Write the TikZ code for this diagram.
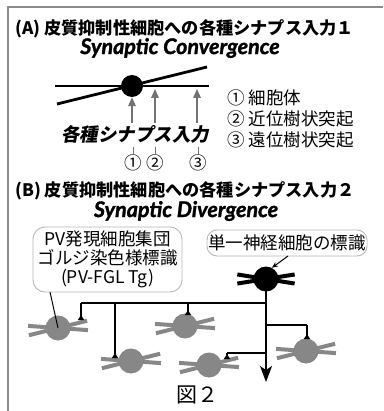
\documentclass[tikz,border=0pt]{standalone}
\usepackage{fontspec}
\setmainfont{Noto Sans CJK JP}
\newfontfamily\jp{Noto Sans CJK JP}
\newfontfamily\jpsl[FakeSlant=0.18]{Noto Sans CJK JP}
\newfontfamily\lat[FakeBold=1.4]{Lato}
\usetikzlibrary{arrows.meta}
\definecolor{framegray}{gray}{0.55}
\definecolor{cellgray}{gray}{0.53}
\definecolor{arrowgray}{gray}{0.45}
\definecolor{boxgray}{gray}{0.72}

% one neuron: soma node plus two dendrite strokes crossing at its centre
% #1 name, #2 position, #3 colour, #4 and #5 dendrite angles, #6 half length
\newcommand\nrn[6]{%
  \draw[dend, draw=#3] (#2) ++(180+#4:#6) -- ++(#4:2*#6);
  \draw[dend, draw=#3] (#2) ++(180+#5:#6) -- ++(#5:2*#6);
  \node[soma, fill=#3] (#1) at (#2) {};
}

\begin{document}
\begin{tikzpicture}[x=1pt,y=-1pt,
  title/.style={anchor=west, inner sep=0, font=\jp\bfseries\fontsize{17.2}{18}\selectfont},
  entitle/.style={inner sep=0, font=\lat\bfseries\itshape\fontsize{21.5}{22}\selectfont},
  jtext/.style={inner sep=0, font=\jp\fontsize{17.5}{18}\selectfont},
  legend/.style={anchor=west, inner sep=0, font=\jp\fontsize{17.5}{18}\selectfont},
  soma/.style={circle, inner sep=0, minimum size=25pt, draw=none},
  dend/.style={line width=4pt},
  thick line/.style={line width=2.8pt},
  garrow/.style={draw=arrowgray, line width=1.6pt, -{Triangle[length=9pt,width=7.5pt]}},
  gtick/.style={draw=arrowgray, line width=0.8pt},
  axon/.style={line width=1.6pt},
  term/.style={axon, -{Triangle[reversed,length=5pt,width=6pt]}},
  callout/.style={draw=boxgray, line width=0.9pt, rounded corners=12pt, fill=white, inner sep=0,
                  align=center, font=\jp\fontsize{17.5}{19}\selectfont},
]
\fill[white] (0,0) rectangle (383,411);
\useasboundingbox (0,0) rectangle (383,411);

% frame on the top and left
\draw[framegray, line width=2pt] (8,411) -- (8,7) -- (383,7);

% ---------- (A) convergence ----------
\node[title] (titleA) at (15,29) {(A) 皮質抑制性細胞への各種シナプス入力１};
\node[entitle] (convA) at (180,48) {Synaptic Convergence};

\coordinate (hL) at (55,86);
\coordinate (hR) at (209,86);
\coordinate (sL) at (57,104);
\coordinate (sR) at (207,67);
\draw[thick line] (hL) -- (hR);
\draw[thick line] (sL) -- (sR);
\node[soma, fill=black, minimum size=22pt] (somaA) at (132,86) {};

\coordinate (a1) at (132,123);
\coordinate (a2) at (155,123);
\coordinate (a3) at (197,123);
\draw[garrow] (a1) -- (somaA.south);
\coordinate (h2) at (155,89);
\coordinate (h3) at (197,89);
\draw[garrow] (a2) -- (h2);
\draw[garrow] (a3) -- (h3);

\node[inner sep=0, font=\jpsl\bfseries\fontsize{18.5}{19}\selectfont] (inputs) at (135,134) {各種シナプス入力};

\node[jtext] (c1) at (133,163) {①};
\node[jtext] (c2) at (155,163) {②};
\node[jtext] (c3) at (198,163) {③};
\draw[gtick] (c1.north) ++(0,-8) -- ++(0,7);
\draw[gtick] (c2.north) ++(0,-8) -- ++(0,7);
\draw[gtick] (c3.north) ++(0,-8) -- ++(0,7);

\node[legend] (l1) at (227,98) {① 細胞体};
\node[legend] (l2) at (227,119) {② 近位樹状突起};
\node[legend] (l3) at (227,140) {③ 遠位樹状突起};

% ---------- (B) divergence ----------
\node[title] (titleB) at (15,191) {(B) 皮質抑制性細胞への各種シナプス入力２};
\node[entitle] (divB) at (186,211) {Synaptic Divergence};

% gray target cells
\nrn{n1}{58,328}{cellgray}{-14}{4}{30}
\nrn{n2}{185,326}{cellgray}{-14}{4}{30}
\nrn{n3}{131,361}{cellgray}{-14}{4}{30}
\nrn{n4}{209,365}{cellgray}{-14}{4}{30}
\nrn{n5}{306,351}{cellgray}{-14}{4}{30}

% single labelled cell
\nrn{bk}{266,279}{black}{-9}{9}{29}

% axon and its collaterals
\coordinate (axend) at (266,382);
\draw[axon, -{Stealth[length=16pt,width=12pt,inset=4pt]}] (bk.center) -- (axend);
\coordinate (j1) at (266,303);
\coordinate (k1) at (81,303);
\coordinate (t1) at (81,320);
\coordinate (k3) at (115,303);
\coordinate (t3) at (115,358);
\coordinate (k2) at (188,303);
\coordinate (t2) at (188,315);
\coordinate (j5) at (266,325);
\coordinate (k5) at (307,325);
\coordinate (t5) at (307,339);
\coordinate (j4) at (266,353);
\coordinate (k4) at (227,353);
\coordinate (t4) at (227,359);
\draw[axon] (j1) -- (k1);
\draw[term] (k1) -- (t1);
\draw[term] (k3) -- (t3);
\draw[term] (k2) -- (t2);
\draw[axon] (j5) -- (k5);
\draw[term] (k5) -- (t5);
\draw[axon] (j4) -- (k4);
\draw[term] (k4) -- (t4);

% callouts
\node[callout, minimum width=149pt, minimum height=65pt] (box1) at (107.5,259.5)
  {PV発現細胞集団\\ゴルジ染色様標識\\(PV-FGL Tg)};
\node[callout, minimum width=160pt, minimum height=26pt, rounded corners=10pt] (box2) at (287,243)
  {単一神経細胞の標識};
\coordinate (p1) at (50,292);
\draw[line width=1pt] (p1) -- (n1.center);
\coordinate (p2) at (288,256);
\draw[line width=1pt, -{Stealth[length=6pt,width=5pt]}] (p2) -- (bk.62);

\node[inner sep=0, font=\jp\fontsize{21}{22}\selectfont] (fig) at (197,395) {図２};
\end{tikzpicture}
\end{document}
